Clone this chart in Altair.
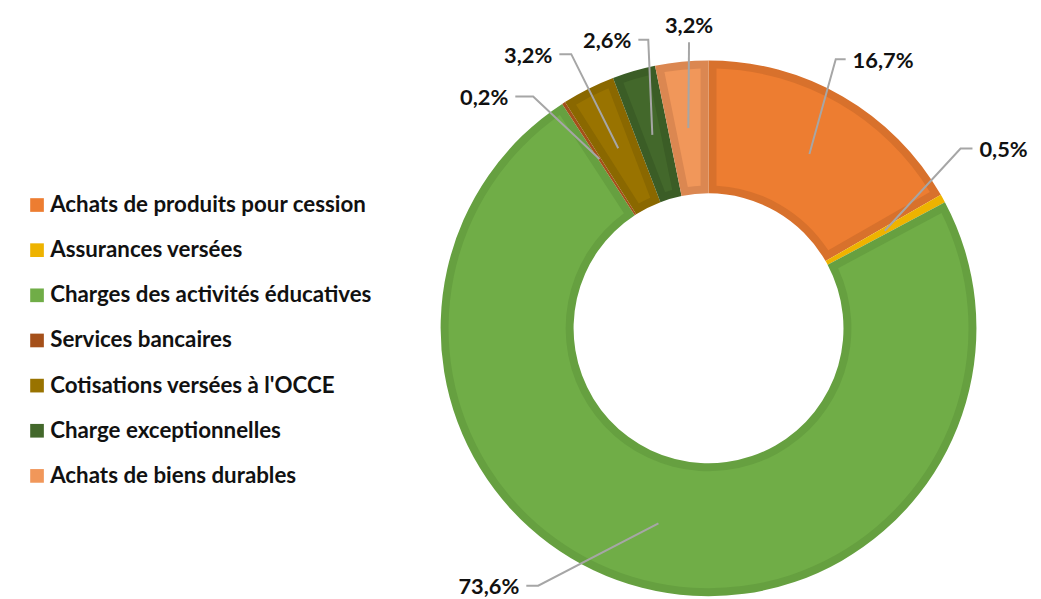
import math
import altair as alt
import pandas as pd

# ---------------- data ----------------
categories = [
    "Achats de produits pour cession",
    "Assurances versées",
    "Charges des activités éducatives",
    "Services bancaires",
    "Cotisations versées à l'OCCE",
    "Charge exceptionnelles",
    "Achats de biens durables",
]
values = [16.7, 0.5, 73.6, 0.2, 3.2, 2.6, 3.2]

# ---------------- styles / layout ----------------
base_colors = ["#ED7D31", "#EEB300", "#70AD47", "#A5501A", "#997300", "#43682B", "#F1975A"]
edge_colors = ["#D8712C", "#EEB300", "#66A040", "#A5501A", "#8A6800", "#3B5D26", "#DB8751"]

W, H = 1033, 591
CX, CY = 706, 320.5
R_OUT, R_IN = 270, 136
BAND = 8
R_ANCHOR = 203
PAD_R = math.sqrt((R_OUT - BAND) ** 2 + (R_IN + BAND) ** 2)
PAD_ANGLE = 2 * BAND / PAD_R

# label elbow placement (polar, relative to donut centre)
label_angle = [25.3, 54.5, 213.5, 322.9, 333.4, 348.2, 356.1]
label_radius = [300, 312, 311, 293, 309, 297, 289]
label_side = ["right", "right", "left", "left", "left", "left", "up"]
tick_len = [10, 12, 12, 18, 12, 10, 0]

FONT = "Lato"

df = pd.DataFrame({
    "cat": categories,
    "value": values,
    "idx": list(range(len(values))),
    "edge": edge_colors,
})

total = sum(values)
cum = 0.0
line_rows, text_rows = [], []
for i, v in enumerate(values):
    mid = (cum + v / 2) / total * 2 * math.pi
    cum += v
    ax, ay = CX + R_ANCHOR * math.sin(mid), CY - R_ANCHOR * math.cos(mid)
    a = math.radians(label_angle[i])
    r = label_radius[i]
    ex, ey = CX + r * math.sin(a), CY - r * math.cos(a)
    side = label_side[i]
    if side == "right":
        tx, ty = ex + tick_len[i], ey
        lx, ly, al = tx + 7, ey + 1.5, "left"
    elif side == "left":
        tx, ty = ex - tick_len[i], ey
        lx, ly, al = tx - 7, ey + 1.5, "right"
    else:
        tx, ty = ex, ey
        lx, ly, al = ex, ey - 16, "center"
    for k, (px, py) in enumerate([(ax, ay), (ex, ey), (tx, ty)]):
        line_rows.append({"id": i, "k": k, "x": px, "y": py})
    text_rows.append({"id": i, "x": lx, "y": ly, "al": al,
                      "txt": f"{v:.1f}".replace(".", ",") + "%"})

lines_df = pd.DataFrame(line_rows)
text_df = pd.DataFrame(text_rows)

xs = alt.Scale(domain=[0, W], nice=False, zero=False)
ys = alt.Scale(domain=[0, H], nice=False, zero=False, reverse=True)

edge_layer = alt.Chart(df).mark_arc(outerRadius=R_OUT, innerRadius=R_IN).encode(
    theta=alt.Theta("value:Q", stack=True),
    order=alt.Order("idx:Q", sort="ascending"),
    color=alt.Color("edge:N", scale=None),
    x=alt.value(CX),
    y=alt.value(CY),
)

fill_layer = alt.Chart(df).mark_arc(
    outerRadius=R_OUT - BAND, innerRadius=R_IN + BAND, padAngle=PAD_ANGLE
).encode(
    theta=alt.Theta("value:Q", stack=True),
    order=alt.Order("idx:Q", sort="ascending"),
    color=alt.Color(
        "cat:N",
        scale=alt.Scale(domain=categories, range=base_colors),
        sort=None,
        legend=alt.Legend(
            orient="none", legendX=18, legendY=185, title=None,
            symbolType="square", symbolSize=190, symbolStrokeWidth=0,
            labelFont=FONT, labelFontSize=22.5, labelFontWeight="bold",
            labelColor="#111111", rowPadding=22.5, labelOffset=2,
            labelLimit=500, padding=0, symbolOpacity=1,
        ),
    ),
    x=alt.value(CX),
    y=alt.value(CY),
)

lines = alt.Chart(lines_df).mark_line(color="#A6A6A6", strokeWidth=2).encode(
    x=alt.X("x:Q", scale=xs, axis=None),
    y=alt.Y("y:Q", scale=ys, axis=None),
    detail="id:N",
    order="k:Q",
)

def text_layer(al):
    return alt.Chart(text_df).transform_filter(alt.datum.al == al).mark_text(
        align=al, baseline="middle", font=FONT, fontSize=22, fontWeight="bold", color="#111111"
    ).encode(
        x=alt.X("x:Q", scale=xs, axis=None),
        y=alt.Y("y:Q", scale=ys, axis=None),
        text="txt:N",
    )

chart = alt.layer(
    edge_layer, fill_layer, lines,
    text_layer("left"), text_layer("right"), text_layer("center"),
).properties(
    width=W, height=H, padding=0, autosize=alt.AutoSizeParams(type="none"),
    background="white",
).configure_view(stroke=None)

chart.save("out.html", embed_options={"renderer": "svg", "actions": False})
